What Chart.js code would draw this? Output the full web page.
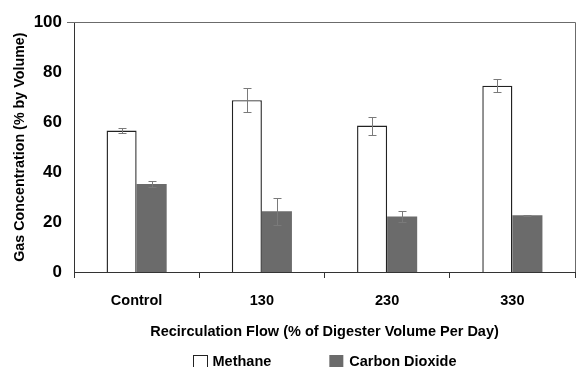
<!DOCTYPE html>
<html>
<head>
<meta charset="utf-8">
<script src="https://cdn.jsdelivr.net/npm/chart.js@4.4.1/dist/chart.umd.min.js"></script>
<style>
  body { margin: 0; background: #fff; }
  #gasChart { display: block; }
</style>
</head>
<body>
<canvas id="gasChart" width="578" height="367"></canvas>
<script>
const categories = ['Control', '130', '230', '330'];
const methane = [56.6, 68.8, 58.6, 74.6];
const methaneErr = [1.0, 4.9, 3.6, 2.6];
const co2 = [35.2, 24.3, 22.2, 22.7];
const co2Err = [1.1, 5.4, 2.1, 0.3];

const FONT = 'Liberation Sans, Arial, sans-serif';

// error bars drawn from the y scale
const errorBars = {
    id: 'errorBars',
    afterDatasetsDraw(chart) {
        const ctx = chart.ctx;
        const y = chart.scales.y;
        ctx.save();
        ctx.strokeStyle = '#7a7a7a';
        ctx.lineWidth = 1;
        chart.data.datasets.forEach((ds, i) => {
            const meta = chart.getDatasetMeta(i);
            meta.data.forEach((bar, j) => {
                const v = ds.data[j], e = ds.errors[j];
                const yTop = Math.round(y.getPixelForValue(v + e)) + 0.5;
                const yBot = Math.round(y.getPixelForValue(v - e)) + 0.5;
                const x = Math.round(bar.x) + 0.5;
                ctx.beginPath();
                ctx.moveTo(x, yTop); ctx.lineTo(x, yBot);
                ctx.moveTo(x - 4, yTop); ctx.lineTo(x + 4, yTop);
                ctx.moveTo(x - 4, yBot); ctx.lineTo(x + 4, yBot);
                ctx.stroke();
            });
        });
        ctx.restore();
    }
};

// top and right frame lines
const frame = {
    id: 'frame',
    afterDraw(chart) {
        const {ctx, chartArea: a} = chart;
        ctx.save();
        ctx.strokeStyle = '#6b6b6b';
        ctx.lineWidth = 1;
        ctx.beginPath();
        ctx.moveTo(a.left - 7, Math.round(a.top) + 0.5);
        ctx.lineTo(Math.round(a.right) + 0.5, Math.round(a.top) + 0.5);
        ctx.lineTo(Math.round(a.right) + 0.5, a.bottom);
        ctx.stroke();
        ctx.restore();
    }
};

// legend under the axis title
const bottomLegend = {
    id: 'bottomLegend',
    afterDraw(chart) {
        const {ctx, chartArea: a} = chart;
        ctx.save();
        ctx.font = 'bold 14.5px ' + FONT;
        const box = 14, gap = 6, between = 58;
        const items = chart.data.datasets.map(ds => ({ds, w: ctx.measureText(ds.label).width}));
        let total = items.reduce((s, it) => s + box + gap + it.w, 0) + between * (items.length - 1);
        let x = (a.left + a.right) / 2 - total / 2;
        const top = 355, base = 365.5;
        items.forEach(it => {
            ctx.fillStyle = it.ds.backgroundColor;
            ctx.fillRect(x, top, box, box);
            if (it.ds.borderWidth) {
                ctx.strokeStyle = it.ds.borderColor;
                ctx.lineWidth = 1;
                ctx.strokeRect(Math.round(x) + 0.5, top + 0.5, box, box);
            }
            ctx.fillStyle = '#000';
            ctx.textBaseline = 'alphabetic';
            ctx.fillText(it.ds.label, x + box + gap, base);
            x += box + gap + it.w + between;
        });
        ctx.restore();
    }
};

new Chart(document.getElementById('gasChart').getContext('2d'), {
    type: 'bar',
    data: {
        labels: categories,
        datasets: [
            {
                label: 'Methane',
                data: methane,
                errors: methaneErr,
                backgroundColor: '#ffffff',
                borderColor: '#222222',
                borderWidth: 1.4,
                categoryPercentage: 0.48,
                barPercentage: 1.0
            },
            {
                label: 'Carbon Dioxide',
                data: co2,
                errors: co2Err,
                backgroundColor: '#6b6b6b',
                borderWidth: 0,
                categoryPercentage: 0.48,
                barPercentage: 1.0
            }
        ]
    },
    options: {
        responsive: false,
        animation: false,
        devicePixelRatio: 1,
        layout: { padding: { top: 21, right: 3, left: 0, bottom: 0 } },
        plugins: {
            legend: { display: false },
            tooltip: { enabled: false }
        },
        scales: {
            x: {
                afterFit: s => { s.height = 95; },
                grid: { offset: true, drawOnChartArea: false, drawTicks: true, tickLength: 6, color: '#333' },
                border: { display: true, color: '#333', width: 1 },
                ticks: { color: '#000', font: { family: FONT, size: 14.5, weight: 'bold' }, padding: 14 },
                title: {
                    display: true,
                    text: 'Recirculation Flow (% of Digester Volume Per Day)',
                    color: '#000',
                    font: { family: FONT, size: 14.5, weight: 'bold' },
                    padding: { top: 0, bottom: 26 }
                }
            },
            y: {
                min: 0,
                max: 100,
                afterFit: s => { s.width = 74; },
                grid: { display: false, drawTicks: false },
                border: { display: true, color: '#333', width: 1 },
                ticks: { stepSize: 20, color: '#000', padding: 12, font: { family: FONT, size: 17, weight: 'bold' } },
                title: {
                    display: true,
                    text: 'Gas Concentration (% by Volume)',
                    color: '#000',
                    font: { family: FONT, size: 14.3, weight: 'bold' },
                    padding: { top: 11, bottom: 0 }
                }
            }
        }
    },
    plugins: [errorBars, frame, bottomLegend]
});
</script>
</body>
</html>
